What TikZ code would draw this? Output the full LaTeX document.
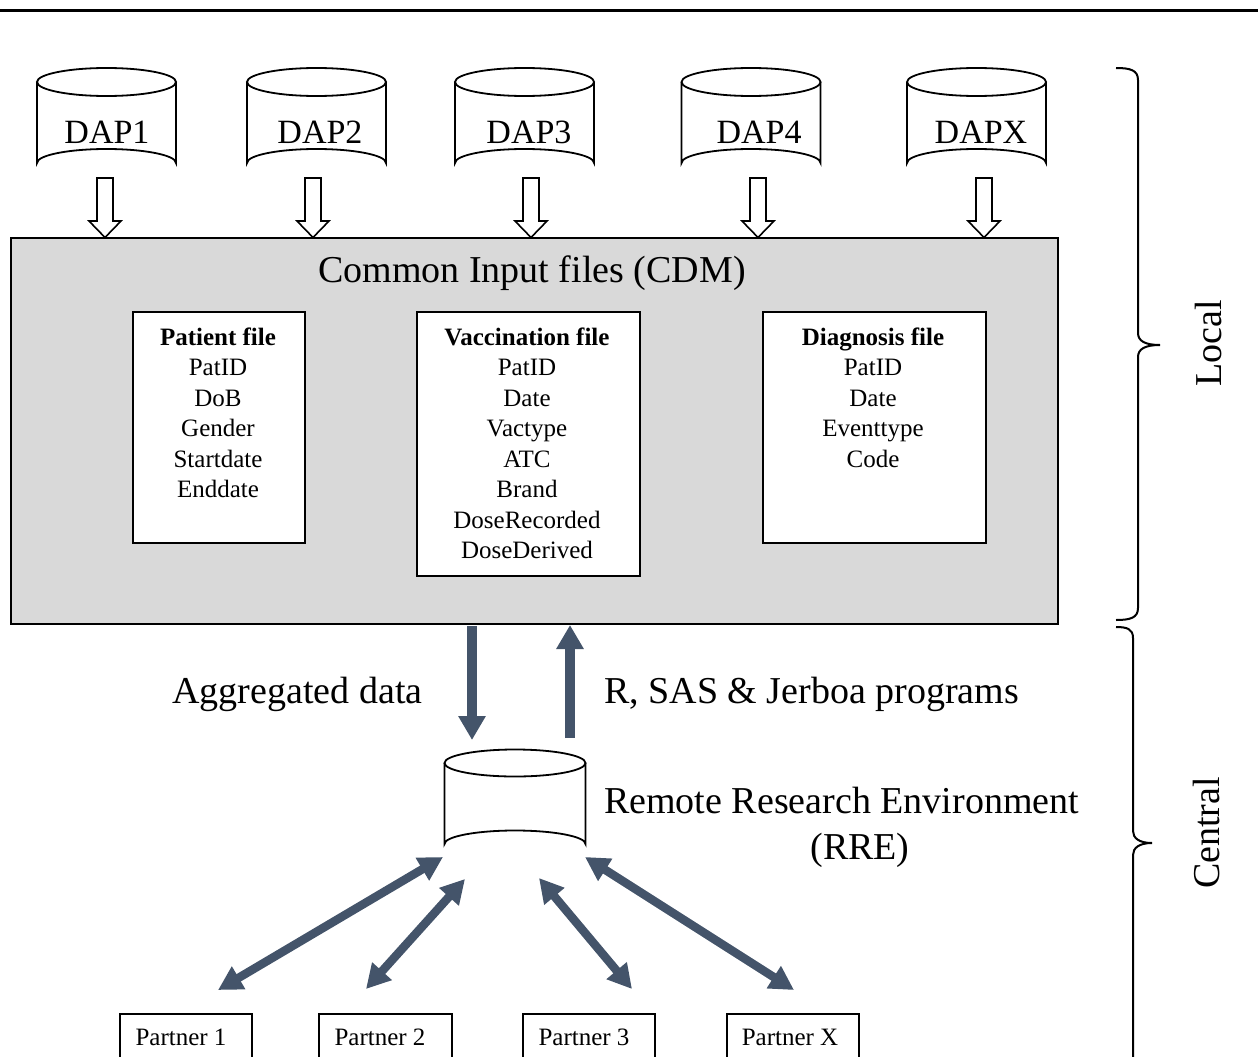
\documentclass[tikz,border=0pt]{standalone}
\usepackage{fontspec}
\setmainfont{Liberation Serif}
\usetikzlibrary{arrows.meta}
\definecolor{slate}{HTML}{44546A}
\definecolor{cdmgray}{HTML}{D9D9D9}
\newcommand\drawcyl[5]{%
  \draw[cylline,fill=white] ({#1-#4},#2) -- ({#1-#4},#3) arc[start angle=180,end angle=360,x radius=#4,y radius=#5] -- ({#1+#4},#2);
  \draw[cylline,fill=white] (#1,#2) ellipse[x radius=#4,y radius=#5];
}
\newcommand\hollowarrow[1]{%
  \draw[hollow] ({#1-8},178) -- ({#1-8},221) -- ({#1-16},221) -- (#1,237.5) -- ({#1+16},221) -- ({#1+8},221) -- ({#1+8},178) -- cycle;
}
\begin{document}
\begin{tikzpicture}[x=1pt,y=-1pt,
  cylline/.style={line width=1.8pt},
  daptext/.style={font=\fontsize{34}{40}\selectfont, anchor=base, inner sep=0pt},
  biglabel/.style={font=\fontsize{38}{46}\selectfont, anchor=base, inner sep=0pt},
  hollow/.style={line width=1.6pt, fill=white, line join=miter},
  cdmbox/.style={draw, line width=1.8pt, fill=cdmgray, inner sep=0pt},
  filebox/.style={draw, line width=1.8pt, fill=white, inner sep=0pt},
  filetext/.style={font=\fontsize{25}{30.5}\selectfont, align=center, anchor=base, inner sep=0pt},
  flow/.style={draw=slate, color=slate, line width=9.5pt, -{Triangle[length=24pt,width=26pt]}},
  link/.style={draw=slate, color=slate, line width=8.5pt, {Triangle[length=24pt,width=25pt]}-{Triangle[length=24pt,width=25pt]}},
  partbox/.style={draw, line width=1.8pt, inner sep=0pt, minimum height=90pt, anchor=north},
  parttext/.style={font=\fontsize{25}{30}\selectfont, anchor=base, inner sep=0pt},
  brace/.style={line width=2pt},
  sidelabel/.style={font=\fontsize{38}{46}\selectfont, rotate=90, inner sep=0pt}
]
\useasboundingbox (0,0) rectangle (1258,1057);
\clip (0,0) rectangle (1258,1057);

% top rule
\draw[line width=2.7pt] (0,10.7) -- (1258,10.7);

% DAP cylinders
\drawcyl{106.5}{82}{163}{69.5}{14}
\drawcyl{316.5}{82}{163}{69.5}{14}
\drawcyl{524.5}{82}{163}{69.5}{14}
\drawcyl{751}{82}{163}{69.5}{14}
\drawcyl{976.5}{82}{163}{69.5}{14}
\node[daptext] (dap1) at (107,143) {DAP1};
\node[daptext] (dap2) at (320,143) {DAP2};
\node[daptext] (dap3) at (529,143) {DAP3};
\node[daptext] (dap4) at (759,143) {DAP4};
\node[daptext] (dap5) at (981,143) {DAPX};

% CDM box
\node[cdmbox, minimum width=1047pt, minimum height=386pt] (cdm) at (534.5,431) {};
\node[biglabel] (cdmtitle) at (532,282) {Common Input files (CDM)};

% hollow arrows
\hollowarrow{105}
\hollowarrow{313}
\hollowarrow{531}
\hollowarrow{758}
\hollowarrow{984}

% file boxes
\node[filebox, minimum width=172pt, minimum height=231pt] (pat) at (219,427.5) {};
\node[filebox, minimum width=223pt, minimum height=264pt] (vac) at (528.5,444) {};
\node[filebox, minimum width=223pt, minimum height=231pt] (dia) at (874.5,427.5) {};
\node[filetext] (patt) at (218,497.5) {\textbf{Patient file}\\PatID\\DoB\\Gender\\Startdate\\Enddate};
\node[filetext] (vact) at (527,558.5) {\textbf{Vaccination file}\\PatID\\Date\\Vactype\\ATC\\Brand\\DoseRecorded\\DoseDerived};
\node[filetext] (diat) at (873,467) {\textbf{Diagnosis file}\\PatID\\Date\\Eventtype\\Code};

% flows between CDM and RRE
\coordinate (aggTop) at (472,626);
\coordinate (aggBot) at (472,740);
\coordinate (progBot) at (570,738);
\coordinate (progTop) at (570,625);
\draw[flow] (aggTop) -- (aggBot);
\draw[flow] (progBot) -- (progTop);
\node[biglabel] (agg) at (297.5,703) {Aggregated data};
\node[biglabel] (prog) at (811.5,703) {R, SAS \& Jerboa programs};

% RRE cylinder
\drawcyl{515}{763}{844}{70.5}{13.5}
\node[inner sep=0pt, minimum width=141pt, minimum height=108pt] (rre) at (515,803) {};
\node[biglabel] (rrel1) at (841.5,813) {Remote Research Environment};
\node[biglabel] (rrel2) at (860,859) {(RRE)};

% partners
\node[partbox, minimum width=132pt] (p1) at (186,1013) {};
\node[partbox, minimum width=133pt] (p2) at (385.5,1013) {};
\node[partbox, minimum width=132pt] (p3) at (589,1013) {};
\node[partbox, minimum width=132pt] (p4) at (793,1013) {};
\node[parttext] (p1t) at (181,1045) {Partner 1};
\node[parttext] (p2t) at (380,1045) {Partner 2};
\node[parttext] (p3t) at (584,1045) {Partner 3};
\node[parttext] (p4t) at (790,1045) {Partner X};

% links RRE <-> partners
\coordinate (r1) at (443,857);  \coordinate (q1) at (218,990);
\coordinate (r2) at (465,879);  \coordinate (q2) at (366,989);
\coordinate (r3) at (539,878);  \coordinate (q3) at (632,989);
\coordinate (r4) at (585,857);  \coordinate (q4) at (794,990);
\draw[link] (r1) -- (q1);
\draw[link] (r2) -- (q2);
\draw[link] (r3) -- (q3);
\draw[link] (r4) -- (q4);

% braces
\draw[brace] (1116,68) .. controls (1130,68) and (1138,70) .. (1138,80) -- (1138,333)
  .. controls (1138,341) and (1145,345) .. (1160,345)
  .. controls (1145,345) and (1138,349) .. (1138,357) -- (1138,608)
  .. controls (1138,618) and (1130,620) .. (1116,620);
\draw[brace] (1116,627) .. controls (1127,627) and (1133,629) .. (1133,638) -- (1133,831)
  .. controls (1133,838) and (1139,843) .. (1152,843)
  .. controls (1139,843) and (1133,848) .. (1133,855) -- (1133,1060);
\node[sidelabel] (local) at (1208,343) {Local};
\node[sidelabel] (central) at (1206,833) {Central};
\end{tikzpicture}
\end{document}
